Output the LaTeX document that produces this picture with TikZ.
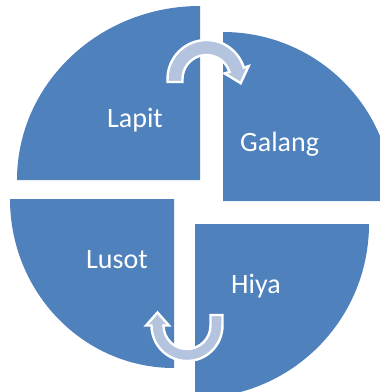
\documentclass[tikz,border=0pt]{standalone}
\usepackage{fontspec}
\setmainfont{Carlito}
\usepackage{tikz}
\usetikzlibrary{positioning,calc}
\definecolor{segblue}{HTML}{4F81BD}
\definecolor{arrowblue}{HTML}{B4C4DE}

\begin{document}
\begin{tikzpicture}[x=1pt,y=-1pt,
	segment/.style={fill=segblue,draw=none},
	label/.style={text=white,inner sep=0pt,anchor=base west,font=\fontsize{28}{30}\selectfont},
	turn/.style={fill=arrowblue,draw=white,line width=2.4pt,line join=miter}]
	\useasboundingbox (0,0) rectangle (380,392);
	% four segments
	\fill[segment] (200,180) -- (17,180) arc[start angle=180,end angle=270,x radius=183,y radius=174] -- cycle;
	\fill[segment] (223,201) -- (223,32) arc[start angle=270,end angle=360,x radius=170,y radius=169] -- cycle;
	\fill[segment] (195,224) -- (369,224) arc[start angle=0,end angle=90,x radius=174,y radius=174] -- cycle;
	\fill[segment] (174,199) -- (174,368) arc[start angle=90,end angle=180,x radius=164,y radius=169] -- cycle;
	% labels
	\node[label] (lapit) at (107,127) {Lapit};
	\node[label] (galang) at (240,151) {Galang};
	\node[label] (lusot) at (86,268) {Lusot};
	\node[label] (hiya) at (231,293) {Hiya};
	% turning arrows
	\coordinate (top) at (206.5,79);
	\coordinate (bot) at (187,325.5);
	\draw[turn] ($(top)+(-39,3)$) -- ($(top)+(180:39)$) arc[start angle=180,end angle=343,radius=39]
		-- ($(top)+(343:44)$) -- ($(top)+(343:31.5)+(73:14)$) -- ($(top)+(343:19)$)
		-- ($(top)+(343:24)$) arc[start angle=343,end angle=180,radius=24] -- ($(top)+(-24,3)$) -- cycle;
	\draw[turn] ($(bot)+(35.5,-10.5)$) -- ($(bot)+(0:35.5)$) arc[start angle=0,end angle=180,radius=35.5]
		-- ($(bot)+(180:41)$) -- ($(bot)+(180:29.5)+(-90:13)$) -- ($(bot)+(180:18)$)
		-- ($(bot)+(180:23.5)$) arc[start angle=180,end angle=0,radius=23.5] -- ($(bot)+(23.5,-10.5)$) -- cycle;
\end{tikzpicture}
\end{document}
